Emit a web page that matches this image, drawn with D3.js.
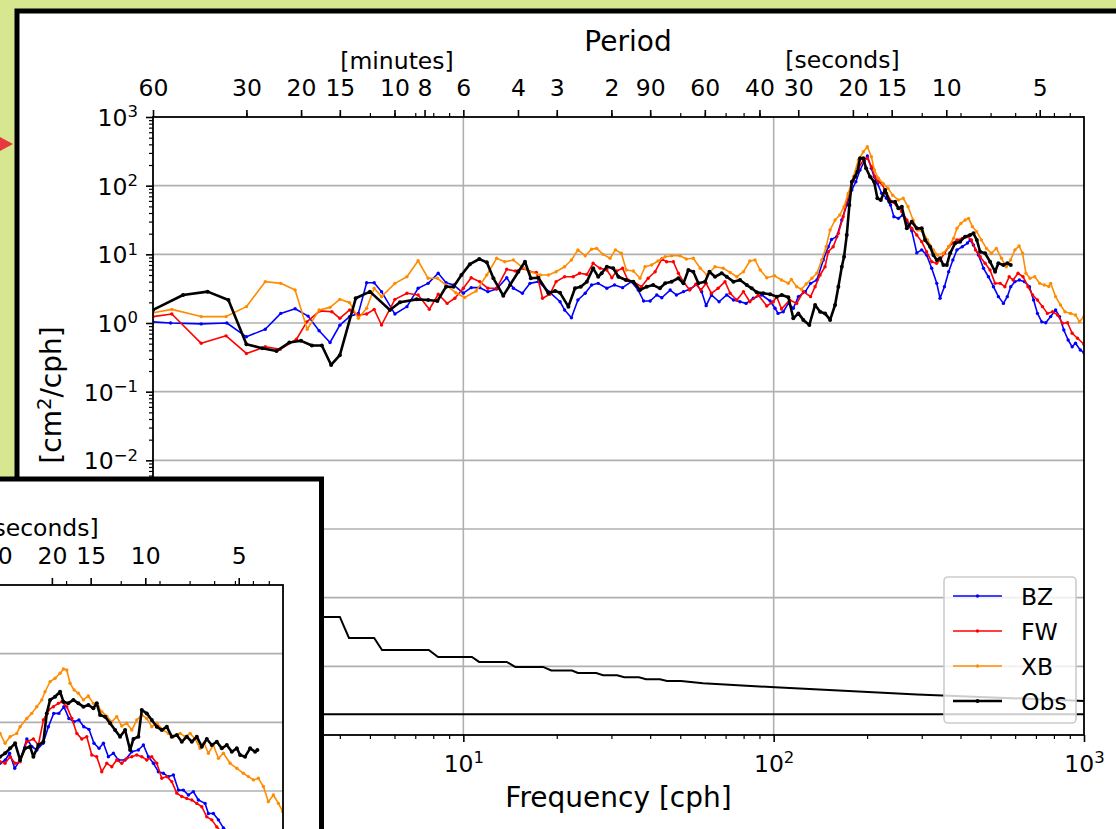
<!DOCTYPE html>
<html><head><meta charset="utf-8">
<script src="https://cdn.jsdelivr.net/npm/d3@7"></script>
<style>
html,body{margin:0;padding:0;background:#d6e790;overflow:hidden}
svg{display:block}
</style></head>
<body>
<svg id="chart" width="1116" height="829"></svg>
<script>
// ===================== DATA (main panel) =====================
const seriesNames = ["BZ", "FW", "XB", "Obs"];

const bzFreq = [1, 1.14, 1.43, 1.73, 2, 2.3, 2.58, 2.87, 3.16, 3.43,
  3.72, 4, 4.3, 4.59, 4.88, 5.16, 5.45, 6.02, 6.58, 7.15,
  7.7, 8.3, 8.8, 9.32, 10, 10.6, 11.3, 12, 12.8, 13.8,
  14.5, 15.5, 16.4, 17.45, 19, 20.5, 21.2, 22.3, 23.4, 24.7,
  25.9, 27.2, 29, 30.7, 32.6, 34.8, 36.6, 38.1, 40, 42,
  43.6, 46.4, 48.6, 51.2, 53.8, 56.6, 58.6, 60.6, 63, 66.7,
  70.6, 74.2, 77.9, 81.5, 86, 91.5, 97.4, 101, 103.3, 107.4,
  111.5, 115.7, 120.1, 126.5, 131.5, 137.8, 144.5, 150, 153.6, 159.7,
  165.8, 172, 178.6, 184, 189.8, 195.6, 200.4, 206.5, 210.7, 216,
  222.8, 231, 238, 244, 252.3, 260.6, 268.6, 278.6, 289.2, 300,
  311, 323, 335.4, 343.7, 355, 366.4, 378, 389.6, 405.3, 421.3,
  429.6, 440.2, 456.8, 474.4, 492.2, 510.8, 530, 550, 566, 580.7,
  599, 619, 643, 667, 688, 708, 731, 753, 781, 810,
  834, 861, 889, 916, 939, 973, 1000];
const bzVal = [1.04, 1.0, 0.97, 1.0, 0.63, 0.81, 1.38, 1.61, 1.26, 0.77,
  0.52, 0.93, 1.24, 1.38, 3.86, 3.86, 2.86, 1.35, 1.73, 3.2,
  3.78, 5.3, 3.86, 3.57, 2.72, 3.27, 3.27, 2.86, 3.13, 4.57,
  3.2, 2.71, 3.78, 4.0, 2.8, 2.04, 1.55, 1.19, 2.16, 2.71,
  3.57, 3.78, 3.2, 3.57, 3.27, 4.0, 3.02, 2.09, 2.09, 2.56,
  2.33, 3.02, 2.56, 2.86, 3.13, 3.66, 2.86, 1.79, 2.56, 2.04,
  2.56, 2.16, 2.04, 1.93, 2.29, 2.56, 2.09, 1.64, 1.38, 1.46,
  1.93, 1.64, 2.42, 2.86, 3.78, 4.23, 8.27, 12.9, 16.5, 18.1,
  31.6, 52.3, 86.5, 114, 169, 223, 270, 179, 135, 108,
  77.5, 65.5, 52.3, 35.3, 33.4, 37.4, 29.9, 22.0, 10.5, 11.6,
  9.78, 6.26, 3.78, 2.29, 3.38, 5.58, 8.27, 11.6, 12.9, 14.6,
  16.2, 13.7, 9.78, 6.26, 4.72, 3.38, 2.42, 1.93, 2.42, 3.38,
  4.0, 4.23, 4.0, 3.38, 2.16, 1.38, 1.04, 1.01, 1.24, 1.55,
  1.24, 0.79, 0.565, 0.45, 0.506, 0.405, 0.37];

const fwFreq = [1, 1.15, 1.43, 1.72, 2, 2.3, 2.57, 2.9, 3.13, 3.45,
  3.77, 4, 4.3, 4.59, 4.88, 5.16, 5.45, 6.02, 6.58, 7.15,
  7.77, 8.3, 8.87, 9.39, 10, 10.6, 11.3, 12, 12.8, 13.8,
  14.7, 15.6, 16.4, 17.2, 18, 19, 19.9, 21.2, 22.6, 23.7,
  25, 26.2, 27.6, 29, 30.1, 31.2, 32.6, 33.9, 35.3, 37.5,
  39.4, 41.5, 43.6, 45.2, 47.5, 49.3, 51.2, 53.6, 56.1, 58.3,
  60.6, 63, 66.2, 69.7, 72.4, 76.1, 79.9, 83.8, 89.2, 95,
  99.7, 102.3, 106, 112.6, 118.7, 124.6, 131.5, 136, 141.1, 146.4,
  150, 155.5, 161.6, 167.5, 174, 180.7, 187.5, 194.5, 200.4, 206.5,
  212, 217.5, 222.8, 231, 240, 248.5, 258.8, 268.6, 278.6, 289.2,
  300, 311, 323, 335, 343.7, 355, 366.4, 378, 389.6, 405.3,
  421.3, 434, 447, 462.6, 480, 498, 517, 537, 556, 574,
  591, 613, 636, 660, 683, 708, 735, 762, 792, 822,
  853, 885, 916, 953, 1000];
const fwVal = [1.24, 1.35, 0.506, 0.65, 0.36, 0.45, 0.414, 0.58, 1.04, 1.5,
  1.46, 1.17, 1.55, 1.31, 1.35, 1.58, 0.935, 2.21, 2.71, 2.56,
  1.58, 2.62, 1.93, 2.29, 3.2, 4.57, 4.0, 3.2, 3.2, 6.05,
  5.72, 6.26, 5.58, 5.45, 2.29, 2.62, 4.0, 4.72, 4.72, 5.3,
  5.1, 7.4, 6.26, 5.91, 4.57, 5.72, 6.26, 4.23, 4.0, 3.38,
  4.48, 5.58, 8.55, 7.8, 7.8, 5.3, 4.0, 3.02, 3.66, 3.02,
  3.78, 2.71, 3.2, 4.0, 2.71, 2.16, 2.86, 2.04, 2.56, 1.77,
  2.04, 2.42, 1.6, 2.16, 1.93, 2.86, 2.42, 3.38, 5.0, 6.6,
  10.9, 12.9, 20.2, 35.3, 73, 120, 179, 236, 250, 189,
  135, 114, 108, 77.5, 58.4, 52.3, 41.8, 31.6, 23.9, 19.1,
  15.3, 10.9, 7.8, 7.4, 8.27, 10.35, 12.9, 14.6, 16.2, 17.1,
  18.1, 16.2, 11.6, 9.24, 7.4, 5.91, 3.78, 3.78, 3.38, 4.72,
  4.23, 5.3, 4.72, 3.38, 2.56, 2.16, 1.73, 1.38, 1.46, 1.31,
  0.99, 1.01, 0.71, 0.6, 0.49];

const xbFreq = [1, 1.15, 1.43, 1.72, 2, 2.3, 2.58, 2.87, 3.14, 3.43,
  3.72, 4, 4.3, 4.59, 4.88, 5.16, 5.45, 6.02, 6.58, 7.15,
  7.7, 8.25, 8.8, 9.45, 10.1, 11, 11.9, 12.8, 13.6, 14.5,
  15.4, 16.4, 17.7, 18.8, 19.9, 21.2, 22.3, 23.4, 24.7, 25.9,
  26.9, 28.2, 29.7, 30.9, 32.3, 33.5, 35.3, 37.1, 38.5, 40.4,
  42.4, 44.7, 46.9, 49.9, 52.3, 55.1, 58, 61, 64.7, 68.8,
  72.4, 76.1, 79.9, 83.8, 87.1, 90.5, 95, 100.6, 106, 111.5,
  114, 118.7, 122.9, 127.3, 132.8, 137.8, 142.9, 147.6, 152, 157.7,
  163.3, 168.6, 174, 180.7, 187.5, 194.5, 200.4, 206.5, 211, 217.5,
  225.2, 233.5, 242, 252.3, 261.5, 271, 281.4, 291.3, 302, 313,
  327, 337.4, 352, 366.4, 380, 389.6, 401, 414, 424.7, 437,
  451, 467, 485, 503, 522, 542, 562, 580, 599, 618,
  634, 650, 670, 694, 720, 745, 770, 781, 810, 840,
  868, 905, 939, 967, 1000];
const xbVal = [1.41, 1.58, 1.24, 1.24, 1.73, 4.0, 3.78, 3.02, 0.81, 1.55,
  1.69, 2.21, 1.98, 1.17, 1.64, 3.2, 2.42, 3.78, 4.72, 8.06,
  4.48, 4.48, 3.57, 2.76, 2.35, 2.92, 5.0, 8.75, 7.8, 8.27,
  6.6, 5.58, 5.0, 5.0, 5.58, 6.6, 8.27, 11.6, 9.55, 11.9,
  12.2, 10.0, 8.75, 11.6, 10.35, 5.91, 5.72, 4.48, 6.6, 7.0,
  8.0, 9.24, 9.55, 9.55, 8.55, 8.75, 6.26, 5.0, 6.6, 6.26,
  5.45, 4.72, 5.58, 8.0, 8.27, 5.91, 4.57, 4.87, 4.23, 3.8,
  4.3, 3.38, 3.1, 3.7, 4.48, 5.3, 8.27, 12.9, 22.6, 31.6,
  37.4, 49.4, 77.5, 135, 236, 312, 369, 264, 169, 128,
  108, 91.5, 72.5, 61.8, 65.5, 49.4, 31.6, 22.6, 21.4, 16.2,
  11.6, 9.78, 10.35, 12.9, 17.1, 23.9, 28.2, 31.6, 33.4, 25.3,
  21.4, 16.2, 12.2, 10.35, 12.2, 8.75, 6.6, 8.27, 11.6, 13.2,
  10.35, 5.3, 4.48, 4.72, 3.78, 3.57, 3.4, 3.78, 2.42, 1.83,
  1.46, 1.38, 1.31, 1.04, 1.24];

const obsFreq = [1, 1.25, 1.5, 1.75, 2, 2.25, 2.5, 2.75, 3, 3.25,
  3.5, 3.75, 4, 4.5, 5, 5.8, 6.25, 7.07, 7.7, 8.25,
  8.8, 9.3, 9.86, 10.5, 11.26, 11.9, 12.5, 13.45, 14.14, 15.04,
  15.8, 16.5, 17.45, 18.8, 19.75, 20.5, 21.8, 22.9, 23.9, 25.0,
  26.2, 27.2, 27.9, 29.0, 30.4, 31.6, 33.4, 35.3, 37.1, 39.0,
  40.9, 43.0, 44.7, 46.9, 49.3, 51.2, 53.1, 55.1, 57.2, 60.1,
  62.1, 64.7, 68.0, 70.6, 74.2, 77.9, 81.9, 85.0, 88.2, 92.6,
  97.4, 102.3, 106.2, 111.5, 115.7, 120.1, 124.6, 130.3, 136, 141.1,
  146.4, 152, 157.7, 161.6, 165.8, 168.6, 172, 175.4, 178.6, 182.9,
  186.1, 189.8, 194.5, 198.5, 204.5, 210.7, 215.9, 221.4, 228.6, 236,
  246.2, 252.3, 258.8, 268.6, 278.6, 289.2, 300, 307.5, 319.2, 327.1,
  335.4, 343.7, 352.3, 361.3, 370.3, 384.3, 398.8, 413.9, 429.6, 440.2,
  451.4, 462.6, 480.1, 498.2, 517, 529.8, 549.8, 566.2, 580.7];
const obsVal = [1.55, 2.56, 2.86, 2.16, 0.49, 0.43, 0.39, 0.52, 0.55, 0.47,
  0.47, 0.245, 0.34, 2.29, 2.86, 1.55, 2.0, 2.21, 2.16, 2.09,
  3.38, 3.38, 5.0, 7.2, 8.55, 7.65, 4.48, 2.5, 3.57, 5.58,
  7.8, 4.48, 4.57, 2.71, 2.92, 2.75, 1.73, 3.2, 3.38, 4.0,
  6.26, 4.72, 5.3, 6.6, 6.26, 4.72, 4.23, 4.0, 3.02, 3.38,
  3.57, 3.2, 3.78, 4.0, 4.48, 3.78, 5.91, 5.58, 3.78, 4.0,
  5.58, 4.72, 5.3, 4.72, 4.0, 4.23, 3.57, 3.2, 2.8, 2.71,
  2.62, 2.42, 2.56, 2.37, 1.17, 1.38, 1.11, 0.935, 1.83, 1.46,
  1.38, 1.11, 1.83, 3.38, 6.6, 9.24, 19.1, 52.3, 114, 135,
  160, 250, 250, 179, 135, 114, 65.5, 61.8, 86.5, 58.4,
  58.4, 46.8, 49.4, 23.9, 29.9, 23.9, 23.9, 16.2, 12.9, 9.78,
  8.27, 8.75, 7.0, 7.0, 10.35, 14.5, 15.3, 18.1, 19.1, 20.2,
  16.2, 10.9, 10.35, 7.8, 5.58, 7.4, 7.0, 7.4, 7.0];

// stepped reference curve and flat floor line
const stairFreq = [3.3, 4.0, 4.28, 5.16, 5.47, 7.74, 8.29, 10.66, 11.24, 13.8,
  14.7, 18.06, 19.2, 22.4, 23.4, 26.8, 28.2, 31.3, 33.0, 36.8,
  38.8, 43.0, 45.3, 50.3, 59.2, 101, 290, 1000];
const stairVal = [5.24e-5, 5.24e-5, 2.59e-5, 2.59e-5, 1.73e-5, 1.73e-5, 1.37e-5, 1.37e-5, 1.16e-5, 1.16e-5,
  9.8e-6, 9.8e-6, 8.7e-6, 8.7e-6, 8.0e-6, 8.0e-6, 7.4e-6, 7.4e-6, 6.93e-6, 6.93e-6,
  6.48e-6, 6.48e-6, 6.12e-6, 6.12e-6, 5.66e-6, 4.95e-6, 3.9e-6, 3.13e-6];
const floorFreq = [1, 1000];
const floorVal = [2e-6, 2e-6];

// ===================== DATA (overlapping second panel) =====================
const bz2Freq = [122.5, 127.4, 131.5, 136.6, 142.2, 149.5, 155.2, 161, 168.6, 175.4,
  182.5, 189.6, 196.8, 204.2, 212, 220, 228, 237, 246, 255.5,
  263.8, 273.7, 284.1, 294.8, 309.9, 325.6, 342, 354.9, 368.3, 382.3,
  396.7, 411.7, 427.3, 443.5, 460.2, 477.5, 495.6, 514.3, 533.7, 561,
  574.8, 596.5, 619.2, 642.6, 670];
const bz2Val = [2.53, 2.83, 3.54, 2.14, 2.83, 5.72, 4.42, 3.95, 4.95, 8.64,
  13.5, 13.5, 16.9, 11.4, 10.2, 10.8, 8.64, 7.91, 4.95, 4.18,
  4.95, 3.16, 3.54, 2.83, 2.83, 3.73, 3.95, 4.68, 3.16, 2.53,
  1.91, 1.81, 1.62, 1.71, 1.03, 1.03, 0.875, 0.98, 0.74, 0.66,
  0.47, 0.47, 0.38, 0.29, 0.25];
const fw2Freq = [122.5, 127.2, 132, 137, 142.2, 149.4, 156.9, 162.8, 169, 175.4,
  182, 188.9, 193.8, 201, 208.7, 216.6, 224.7, 233.2, 242, 251.1,
  260.6, 270.5, 280.7, 291.3, 302.3, 313.7, 325.6, 337.9, 350.7, 363.9,
  377.7, 392, 406.8, 422.2, 438.1, 454.8, 471.9, 489.8, 508.3, 527.5,
  547.4, 568.1, 589.5, 611.9, 631];
const fw2Val = [2.67, 2.53, 3.16, 2.53, 2.67, 5.22, 5.72, 4.68, 10.8, 15.1,
  16.9, 18.9, 20, 16.9, 11.4, 6.9, 5.72, 6.18, 3.34, 3.16,
  1.91, 2.53, 2.26, 2.83, 2.53, 2.99, 3.16, 3.34, 3.16, 2.83,
  3.16, 2.53, 1.53, 1.62, 1.37, 0.93, 0.83, 0.78, 0.74, 0.66,
  0.59, 0.42, 0.38, 0.30, 0.26];
const xb2Freq = [122.5, 127.2, 132, 138.7, 142.2, 149.4, 155, 160.9, 167, 171.1,
  177.6, 184.3, 191.3, 196.1, 201, 206, 212.3, 219.1, 227.4, 236,
  244.9, 254.2, 260.6, 270.5, 280.7, 291.3, 302.3, 313.7, 325.6, 337.9,
  350.7, 363.9, 377.7, 392, 411.8, 427.3, 443.5, 466.1, 483.7, 502,
  521, 540.5, 557, 574.8, 596.5, 619.2, 642.6, 675.3, 710, 745.4,
  773.5, 802.7, 833, 864.6, 897.2, 931.1, 966.4, 998.4];
const xb2Val = [6.9, 4.95, 6.18, 6.9, 8.64, 11.4, 13.5, 16.9, 21.2, 27.9,
  39.1, 43.8, 51.8, 59.7, 57.8, 37, 29.6, 26.5, 21.2, 24.2,
  18.9, 16.9, 14.3, 12.3, 10.2, 12.1, 8.84, 9.68, 7.72, 10.8,
  12.8, 11.4, 8.64, 9.68, 7.72, 6.9, 6.18, 6.9, 6.18, 6.9,
  5.72, 4.18, 4.95, 3.54, 4.68, 2.99, 3.54, 2.53, 2.14, 1.81,
  1.62, 1.45, 1.53, 1.16, 0.70, 0.875, 0.66, 0.5];
const obs2Freq = [122.5, 127.2, 132, 137, 142.2, 147.5, 153.1, 156.9, 162.8, 169,
  173.3, 177.6, 184.3, 191.3, 196.1, 203.1, 211.1, 219.1, 227.4, 236,
  244.9, 251.1, 257.4, 267.1, 277.2, 287.7, 298.5, 309.9, 321.6, 329.6,
  342, 350.7, 363.9, 377.7, 392, 406.8, 422.2, 438.1, 454.8, 471.9,
  489.8, 508.3, 527.5, 547.4, 568.1, 589.5, 611.9, 635, 659, 683.9,
  710, 727.5, 754.9, 783.4, 813, 827];
const obs2Val = [3.16, 3.54, 4.18, 4.95, 2.83, 4.18, 4.42, 3.16, 4.68, 5.22,
  13.5, 21.2, 23.6, 27.9, 20, 18.9, 21.2, 18.9, 16.9, 17.9,
  16, 18.9, 12.8, 12.1, 9.68, 7.72, 6.18, 7.72, 3.95, 5.72,
  6.18, 15.1, 13.5, 10.8, 8.64, 7.72, 8.64, 6.18, 6.54, 5.22,
  6.18, 5.22, 6.18, 4.42, 5.72, 4.68, 5.22, 4.18, 4.68, 3.73,
  4.18, 3.34, 3.16, 4.18, 3.73, 3.95];

// ===================== AXIS TICK LABELS =====================
const periodMinutes = [60, 30, 20, 15, 10, 8, 6, 4, 3, 2];
const periodSeconds = [90, 60, 40, 30, 20, 15, 10, 5];
const periodLabels = periodMinutes.map(String).concat(periodSeconds.map(String));
const periodFreqs = periodMinutes.map(p => 60 / p).concat(periodSeconds.map(s => 3600 / s));

const FONT = "'DejaVu Sans', sans-serif";
const COLORS = {BZ: "#0000ff", FW: "#ff0000", XB: "#ff8c00", Obs: "#000000"};

const yDecades = [];
for (let e = -6; e <= 3; e++) yDecades.push(Math.pow(10, e));
const xDecades = [1, 10, 100, 1000];
const xMinor = [];
[1, 10, 100].forEach(dec => { for (let k = 2; k <= 9; k++) xMinor.push(k * dec); });
const yMinor = [];
for (let e = -6; e < 3; e++) for (let k = 2; k <= 9; k++) yMinor.push(k * Math.pow(10, e));

const svg = d3.select("#chart");

// red pointer arrow on slide background
svg.append("polygon").attr("points", "0,137 13,144 0,151").attr("fill", "#e8393f");

function supLabels(axisG, baseSize, supSize, raise) {
  axisG.selectAll(".tick text").each(function(d) {
    const e = Math.round(Math.log10(d));
    const t = d3.select(this);
    t.text(null);
    t.append("tspan").attr("font-size", baseSize).text("10");
    t.append("tspan").attr("font-size", supSize).attr("dy", -raise)
      .text(e < 0 ? "\u2212" + (-e) : String(e));
  });
}
function styleAxis(ag, fs, sw) {
  ag.attr("font-family", FONT).attr("font-size", fs).attr("color", "#000");
  ag.select(".domain").remove();
  ag.selectAll(".tick line").attr("stroke-width", sw);
}

function drawFigure(cfg) {
  const g = svg.append("g").attr("class", "fig-" + cfg.id).attr("transform", `translate(${cfg.dx},${cfg.dy})`);
  // figure frame
  g.append("rect").attr("x", 17).attr("y", 11).attr("width", 1105.5).attr("height", 1400)
    .attr("fill", "#fff").attr("stroke", "#000").attr("stroke-width", 5);

  const x = d3.scaleLog().domain([1, 1000]).range([153, 1084]);
  const y = d3.scaleLog().domain([1e-6, 1e3]).range([735, 117]);

  // grid
  const grid = g.append("g").attr("stroke", "#b0b0b0").attr("stroke-width", 1.6);
  grid.selectAll("line.gx").data([10, 100]).join("line").attr("class", "gx")
    .attr("x1", d => x(d)).attr("x2", d => x(d)).attr("y1", y(1e3)).attr("y2", y(1e-6));
  grid.selectAll("line.gy").data(yDecades.slice(1, -1)).join("line").attr("class", "gy")
    .attr("x1", x(1)).attr("x2", x(1000)).attr("y1", d => y(d)).attr("y2", d => y(d));

  const clipId = "clip" + cfg.id;
  g.append("clipPath").attr("id", clipId).append("rect")
    .attr("x", x(1)).attr("y", y(1e3)).attr("width", x(1000) - x(1)).attr("height", y(1e-6) - y(1e3));
  const plot = g.append("g").attr("clip-path", `url(#${clipId})`);
  const line = d3.line().x(d => x(d[0])).y(d => y(d[1]));

  if (cfg.stairs) {
    cfg.stairs.forEach(s => {
      plot.append("path").datum(d3.zip(s.freq, s.val)).attr("d", line)
        .attr("fill", "none").attr("stroke", "#000").attr("stroke-width", 2);
    });
  }
  cfg.series.forEach(s => {
    const pts = d3.zip(s.freq, s.val);
    plot.append("path").datum(pts).attr("d", line).attr("fill", "none")
      .attr("stroke", COLORS[s.name]).attr("stroke-width", s.name === "Obs" ? 2.6 : 1.6)
      .attr("stroke-linejoin", "round");
    plot.append("g").selectAll("circle").data(pts).join("circle")
      .attr("cx", d => x(d[0])).attr("cy", d => y(d[1]))
      .attr("r", s.name === "Obs" ? 2 : 1.7).attr("fill", COLORS[s.name]);
  });

  // spines
  g.append("rect").attr("x", x(1)).attr("y", y(1e3)).attr("width", x(1000) - x(1))
    .attr("height", y(1e-6) - y(1e3)).attr("fill", "none").attr("stroke", "#000").attr("stroke-width", 1.8);

  // bottom axis
  const axB = g.append("g").attr("transform", `translate(0,${y(1e-6)})`)
    .call(d3.axisBottom(x).tickValues(xDecades).tickSize(7).tickPadding(13));
  styleAxis(axB, 23.5, 1.6);
  supLabels(axB, 23.5, 16.5, 8.5);
  const axBm = g.append("g").attr("transform", `translate(0,${y(1e-6)})`)
    .call(d3.axisBottom(x).tickValues(xMinor).tickSize(4).tickFormat(""));
  styleAxis(axBm, 10, 1.2);

  // left axis
  const axL = g.append("g").attr("transform", `translate(${x(1)},0)`)
    .call(d3.axisLeft(y).tickValues(yDecades).tickSize(7).tickPadding(8));
  styleAxis(axL, 23.5, 1.6);
  axL.selectAll(".tick text").attr("dy", "0.36em");
  supLabels(axL, 23.5, 16.5, 8.7);
  const axLm = g.append("g").attr("transform", `translate(${x(1)},0)`)
    .call(d3.axisLeft(y).tickValues(yMinor).tickSize(4).tickFormat(""));
  styleAxis(axLm, 10, 1.2);

  // top (period) axis
  const axT = g.append("g").attr("transform", `translate(0,${y(1e3)})`)
    .call(d3.axisTop(x).tickValues(periodFreqs).tickFormat((d, i) => periodLabels[i]).tickSize(7).tickPadding(14));
  styleAxis(axT, 23.5, 1.6);
  const axTm = g.append("g").attr("transform", `translate(0,${y(1e3)})`)
    .call(d3.axisTop(x).tickValues(xMinor).tickSize(4).tickFormat(""));
  styleAxis(axTm, 10, 1.2);

  // texts
  const txt = (tx, ty, s, size) => g.append("text").attr("x", tx).attr("y", ty)
    .attr("text-anchor", "middle").attr("font-family", FONT).attr("font-size", size).attr("fill", "#000").text(s);
  txt(628, 50.5, "Period", 28);
  txt(397, 68.5, "[minutes]", 23.5);
  txt(842.5, 68, "[seconds]", 23.5);
  txt(618.5, 807, "Frequency [cph]", 28);
  const yl = g.append("text").attr("transform", "translate(61,395) rotate(-90)")
    .attr("text-anchor", "middle").attr("font-family", FONT).attr("font-size", 28).attr("fill", "#000");
  yl.append("tspan").text("[cm");
  yl.append("tspan").attr("font-size", 19.6).attr("dy", -10).text("2");
  yl.append("tspan").attr("dy", 10).text("/cph]");

  // legend
  if (cfg.legend) {
    const lg = g.append("g");
    lg.append("rect").attr("x", 944).attr("y", 577).attr("width", 132).attr("height", 146).attr("rx", 4)
      .attr("fill", "#fff").attr("fill-opacity", 0.8).attr("stroke", "#cccccc").attr("stroke-width", 1.6);
    seriesNames.forEach((n, i) => {
      const yy = 596 + i * 35;
      lg.append("line").attr("x1", 953).attr("x2", 1002).attr("y1", yy).attr("y2", yy)
        .attr("stroke", COLORS[n]).attr("stroke-width", n === "Obs" ? 2.6 : 1.6);
      lg.append("circle").attr("cx", 977.5).attr("cy", yy).attr("r", n === "Obs" ? 2 : 1.7).attr("fill", COLORS[n]);
      lg.append("text").attr("x", 1021).attr("y", yy + 8.5).attr("font-family", FONT)
        .attr("font-size", 23.5).attr("fill", "#000").text(n);
    });
  }
  return g;
}

const mainFig = drawFigure({
  id: "main", dx: 0, dy: 0, legend: true,
  stairs: [{freq: stairFreq, val: stairVal}, {freq: floorFreq, val: floorVal}],
  series: [
    {name: "BZ", freq: bzFreq, val: bzVal},
    {name: "FW", freq: fwFreq, val: fwVal},
    {name: "XB", freq: xbFreq, val: xbVal},
    {name: "Obs", freq: obsFreq, val: obsVal}
  ]
});
const insetFig = drawFigure({
  id: "inset", dx: -801, dy: 468, legend: false, stairs: null,
  series: [
    {name: "BZ", freq: bz2Freq, val: bz2Val},
    {name: "FW", freq: fw2Freq, val: fw2Val},
    {name: "XB", freq: xb2Freq, val: xb2Val},
    {name: "Obs", freq: obs2Freq, val: obs2Val}
  ]
});

// drop texts that can never be seen: main-panel texts hidden under the
// overlapping panel, and overlapping-panel texts lying wholly off screen
const insetBox = {left: -1e4, right: 324, top: 477, bottom: 1e4};
mainFig.selectAll("text").each(function() {
  const b = this.getBoundingClientRect();
  if (b.left >= insetBox.left && b.right <= insetBox.right && b.top >= insetBox.top) d3.select(this).remove();
});
insetFig.selectAll("text").each(function() {
  const b = this.getBoundingClientRect();
  if (b.right <= 0 || b.left >= 1116 || b.bottom <= 0 || b.top >= 829) d3.select(this).remove();
});
</script>
</body></html>
